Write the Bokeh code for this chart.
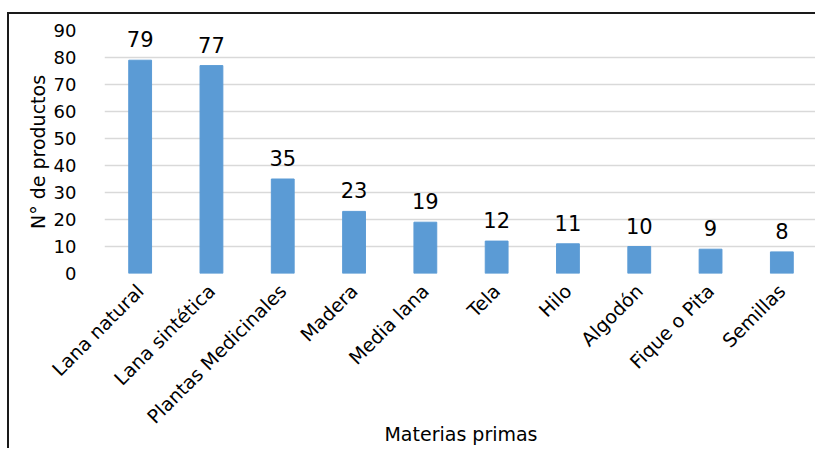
from bokeh.plotting import figure
from bokeh.models import ColumnDataSource, FactorRange, Range1d, FixedTicker
from bokeh.core.properties import value
from bokeh.embed import file_html
from bokeh.resources import INLINE
import math

categories = ["Lana natural", "Lana sintética", "Plantas Medicinales", "Madera",
              "Media lana", "Tela", "Hilo", "Algodón", "Fique o Pita", "Semillas"]
counts = [79, 77, 35, 23, 19, 12, 11, 10, 9, 8]
y_ticks = [0, 10, 20, 30, 40, 50, 60, 70, 80, 90]

FONT = "DejaVu Sans"
src = ColumnDataSource(dict(cat=categories, val=counts, lab=[str(v) for v in counts]))

p = figure(x_range=FactorRange(*categories, range_padding=0), y_range=Range1d(0, 90),
           width=808, height=436, output_backend="svg", toolbar_location=None,
           min_border_left=95, min_border_top=16, min_border_bottom=177, min_border_right=0)
p.styles = {"margin-top": "12px", "margin-left": "7px",
            "border-top": "2px solid #1a1a1a", "border-left": "2px solid #1a1a1a"}
p.outline_line_color = None
p.vbar(x="cat", top="val", width=0.32, source=src, color="#5B9BD5")
p.text(x="cat", y="val", text="lab", source=src, y_offset=-13,
       text_align="center", text_baseline="bottom",
       text_font=value(FONT), text_font_size="21px", text_color="#000000")

p.xgrid.grid_line_color = None
p.ygrid.grid_line_color = "#D9D9D9"
p.ygrid.grid_line_width = 1.5
p.yaxis.ticker = FixedTicker(ticks=y_ticks)
for ax in (p.xaxis[0], p.yaxis[0]):
    ax.axis_line_color = None
    ax.major_tick_line_color = None
    ax.minor_tick_line_color = None
    ax.major_label_text_font = FONT
    ax.major_label_text_color = "#000000"
    ax.axis_label_text_font = FONT
    ax.axis_label_text_font_size = "19px"
    ax.axis_label_text_font_style = "normal"
    ax.axis_label_text_color = "#000000"
p.yaxis.major_label_text_font_size = "18px"
p.xaxis.major_label_text_font_size = "19px"
p.yaxis.major_label_standoff = 22
p.xaxis.major_label_standoff = 8
p.xaxis.major_label_orientation = math.pi / 4
p.yaxis.axis_label = "N° de productos"
p.yaxis.axis_label_standoff = 2
p.xaxis.axis_label = "Materias primas"
p.xaxis.axis_label_standoff = -15

open("out.html", "w").write(file_html(p, INLINE))
